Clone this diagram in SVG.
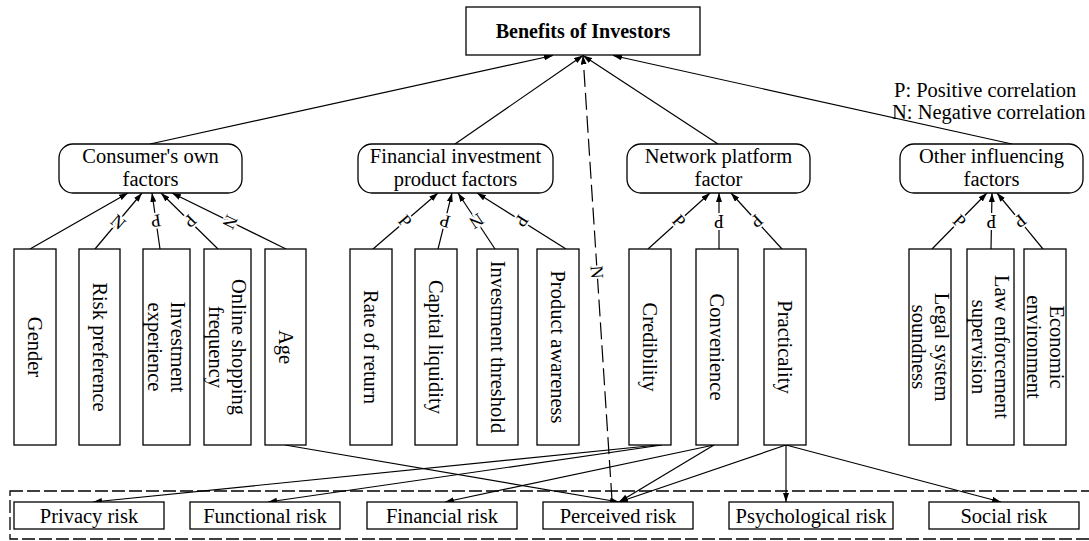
<svg xmlns="http://www.w3.org/2000/svg" width="1089" height="541" viewBox="0 0 1089 541">
<defs>
<marker id="ah" viewBox="0 0 9 6" refX="9" refY="3" markerWidth="9" markerHeight="6" markerUnits="userSpaceOnUse" orient="auto"><path d="M0,0 L9,3 L0,6 z" fill="#000"/></marker>
<style>
text{font-family:"Liberation Serif","Times New Roman",serif;font-size:20.5px;fill:#000}
.box{fill:#fff;stroke:#000;stroke-width:1.3}
.grp{fill:#fff;stroke:#000;stroke-width:1.3}
.c{fill:none;stroke:#000;stroke-width:1.2;marker-end:url(#ah)}
.dash{fill:none;stroke:#000;stroke-width:1.2;stroke-dasharray:17 6;marker-end:url(#ah)}
.cont{fill:none;stroke:#000;stroke-width:1.3;stroke-dasharray:13 4}
.m{text-anchor:middle}
.lbl{font-size:18px;text-anchor:middle;dominant-baseline:central;paint-order:stroke;stroke:#fff;stroke-width:4px}
.title{font-weight:bold;font-size:20px}
</style>
</defs>
<rect width="1089" height="541" fill="#fff"/>

<g id="container"><rect class="cont" x="10" y="491" width="1085" height="48"/></g>

<g id="connectors">
<line class="c" x1="150" y1="144" x2="553" y2="55.5"/>
<line class="c" x1="455" y1="144" x2="583" y2="55.5"/>
<line class="c" x1="718" y1="144" x2="583" y2="55.5"/>
<line class="c" x1="1012" y1="144" x2="613" y2="55.5"/>
<line class="dash" x1="612" y1="500" x2="583" y2="55.5"/>

<line class="c" x1="30" y1="249" x2="128" y2="193"/>
<line class="c" x1="95" y1="249" x2="142" y2="193"/>
<line class="c" x1="160" y1="249" x2="152" y2="193"/>
<line class="c" x1="218" y1="249" x2="161" y2="193"/>
<line class="c" x1="286" y1="249" x2="172" y2="193"/>

<line class="c" x1="373" y1="249" x2="438" y2="193"/>
<line class="c" x1="438" y1="249" x2="452" y2="193"/>
<line class="c" x1="495" y1="249" x2="458" y2="193"/>
<line class="c" x1="566" y1="249" x2="477" y2="193"/>

<line class="c" x1="648" y1="249" x2="710" y2="193"/>
<line class="c" x1="719" y1="249" x2="719" y2="193"/>
<line class="c" x1="782" y1="249" x2="731" y2="193"/>

<line class="c" x1="932" y1="249" x2="987" y2="193"/>
<line class="c" x1="991" y1="249" x2="992" y2="193"/>
<line class="c" x1="1043" y1="249" x2="997" y2="193"/>

<line class="c" x1="658" y1="445" x2="93" y2="502"/>
<line class="c" x1="662" y1="445" x2="268" y2="502"/>
<line class="c" x1="714" y1="445" x2="445" y2="502"/>
<line class="c" x1="714" y1="445" x2="619" y2="502"/>
<line class="c" x1="285" y1="445" x2="619" y2="502"/>
<line class="c" x1="786" y1="445" x2="619" y2="502"/>
<line class="c" x1="786" y1="445" x2="786" y2="502"/>
<line class="c" x1="786" y1="445" x2="1001" y2="502"/>

<text class="lbl" transform="translate(118,222) rotate(40)">N</text>
<text class="lbl" transform="translate(156,221) rotate(172)">P</text>
<text class="lbl" transform="translate(190,221) rotate(134.5)">P</text>
<text class="lbl" transform="translate(230,222) rotate(116)">N</text>
<text class="lbl" transform="translate(405,221) rotate(49)">P</text>
<text class="lbl" transform="translate(445,221) rotate(194)">P</text>
<text class="lbl" transform="translate(476.5,221) rotate(146.5)">N</text>
<text class="lbl" transform="translate(521.5,221) rotate(122)">P</text>
<text class="lbl" transform="translate(679,221) rotate(48)">P</text>
<text class="lbl" transform="translate(719,221) rotate(180)">P</text>
<text class="lbl" transform="translate(756.5,221) rotate(137.7)">P</text>
<text class="lbl" transform="translate(959.5,221) rotate(44.5)">P</text>
<text class="lbl" transform="translate(991.5,221) rotate(180)">P</text>
<text class="lbl" transform="translate(1020,221) rotate(140.6)">P</text>
<text class="lbl" transform="translate(597,272) rotate(86.3)">N</text>
</g>

<g id="benefits">
<rect class="box" x="466" y="7" width="234" height="48"/>
<text class="m title" x="583" y="38">Benefits of Investors</text>
</g>

<g id="legend">
<text x="894" y="97">P: Positive correlation</text>
<text x="892" y="119">N: Negative correlation</text>
</g>

<g id="consumer">
<rect class="grp" x="59" y="144" width="183" height="49" rx="14"/>
<text class="m" x="150.5" y="163">Consumer's own</text>
<text class="m" x="150.5" y="186">factors</text>
</g>
<g id="financial">
<rect class="grp" x="358" y="144" width="195" height="49" rx="14"/>
<text class="m" x="455.5" y="163">Financial investment</text>
<text class="m" x="455.5" y="186">product factors</text>
</g>
<g id="network">
<rect class="grp" x="627" y="144" width="183" height="49" rx="14"/>
<text class="m" x="718.5" y="163">Network platform</text>
<text class="m" x="718.5" y="186">factor</text>
</g>
<g id="other">
<rect class="grp" x="900" y="144" width="183" height="49" rx="14"/>
<text class="m" x="991.5" y="163">Other influencing</text>
<text class="m" x="991.5" y="186">factors</text>
</g>

<g id="gender"><rect class="box" x="14" y="249" width="42" height="196"/><text class="m" transform="translate(35,347) rotate(90)" y="7">Gender</text></g>
<g id="risk-preference"><rect class="box" x="79" y="249" width="41" height="196"/><text class="m" transform="translate(99.5,347) rotate(90)" y="7">Risk preference</text></g>
<g id="investment-experience"><rect class="box" x="143" y="249" width="47" height="196"/><text class="m" transform="translate(166.5,347) rotate(90)"><tspan x="0" y="-4.5">Investment</tspan><tspan x="0" y="18.5">experience</tspan></text></g>
<g id="online-shopping"><rect class="box" x="204" y="249" width="47" height="196"/><text class="m" transform="translate(227.5,347) rotate(90)"><tspan x="0" y="-4.5">Online shopping</tspan><tspan x="0" y="18.5">frequency</tspan></text></g>
<g id="age"><rect class="box" x="265" y="249" width="41" height="196"/><text class="m" transform="translate(285.5,347) rotate(90)" y="7">Age</text></g>

<g id="rate-of-return"><rect class="box" x="350" y="249" width="42" height="196"/><text class="m" transform="translate(371,347) rotate(90)" y="7">Rate of return</text></g>
<g id="capital-liquidity"><rect class="box" x="415" y="249" width="42" height="196"/><text class="m" transform="translate(436,347) rotate(90)" y="7">Capital liquidity</text></g>
<g id="investment-threshold"><rect class="box" x="477" y="249" width="41" height="196"/><text class="m" transform="translate(497.5,347) rotate(90)" y="7">Investment threshold</text></g>
<g id="product-awareness"><rect class="box" x="537" y="249" width="42" height="196"/><text class="m" transform="translate(558,347) rotate(90)" y="7">Product awareness</text></g>

<g id="credibility"><rect class="box" x="629" y="249" width="42" height="196"/><text class="m" transform="translate(650,347) rotate(90)" y="7">Credibility</text></g>
<g id="convenience"><rect class="box" x="696" y="249" width="42" height="196"/><text class="m" transform="translate(717,347) rotate(90)" y="7">Convenience</text></g>
<g id="practicality"><rect class="box" x="764" y="249" width="42" height="196"/><text class="m" transform="translate(785,347) rotate(90)" y="7">Practicality</text></g>

<g id="legal-system"><rect class="box" x="909" y="249" width="42" height="196"/><text class="m" transform="translate(930,347) rotate(90)"><tspan x="0" y="-4.5">Legal system</tspan><tspan x="0" y="18.5">soundness</tspan></text></g>
<g id="law-enforcement"><rect class="box" x="967" y="249" width="47" height="196"/><text class="m" transform="translate(990.5,347) rotate(90)"><tspan x="0" y="-4.5">Law enforcement</tspan><tspan x="0" y="18.5">supervision</tspan></text></g>
<g id="economic-environment"><rect class="box" x="1024" y="249" width="42" height="196"/><text class="m" transform="translate(1045,347) rotate(90)"><tspan x="0" y="-4.5">Economic</tspan><tspan x="0" y="18.5">environment</tspan></text></g>

<g id="privacy-risk"><rect class="box" x="14" y="502" width="150" height="27"/><text class="m" x="89" y="523">Privacy risk</text></g>
<g id="functional-risk"><rect class="box" x="190" y="502" width="150" height="27"/><text class="m" x="265" y="523">Functional risk</text></g>
<g id="financial-risk"><rect class="box" x="367" y="502" width="150" height="27"/><text class="m" x="442" y="523">Financial risk</text></g>
<g id="perceived-risk"><rect class="box" x="543" y="502" width="150" height="27"/><text class="m" x="618" y="523">Perceived risk</text></g>
<g id="psychological-risk"><rect class="box" x="729" y="502" width="164" height="27"/><text class="m" x="811" y="523">Psychological risk</text></g>
<g id="social-risk"><rect class="box" x="929" y="502" width="150" height="27"/><text class="m" x="1004" y="523">Social risk</text></g>
</svg>
